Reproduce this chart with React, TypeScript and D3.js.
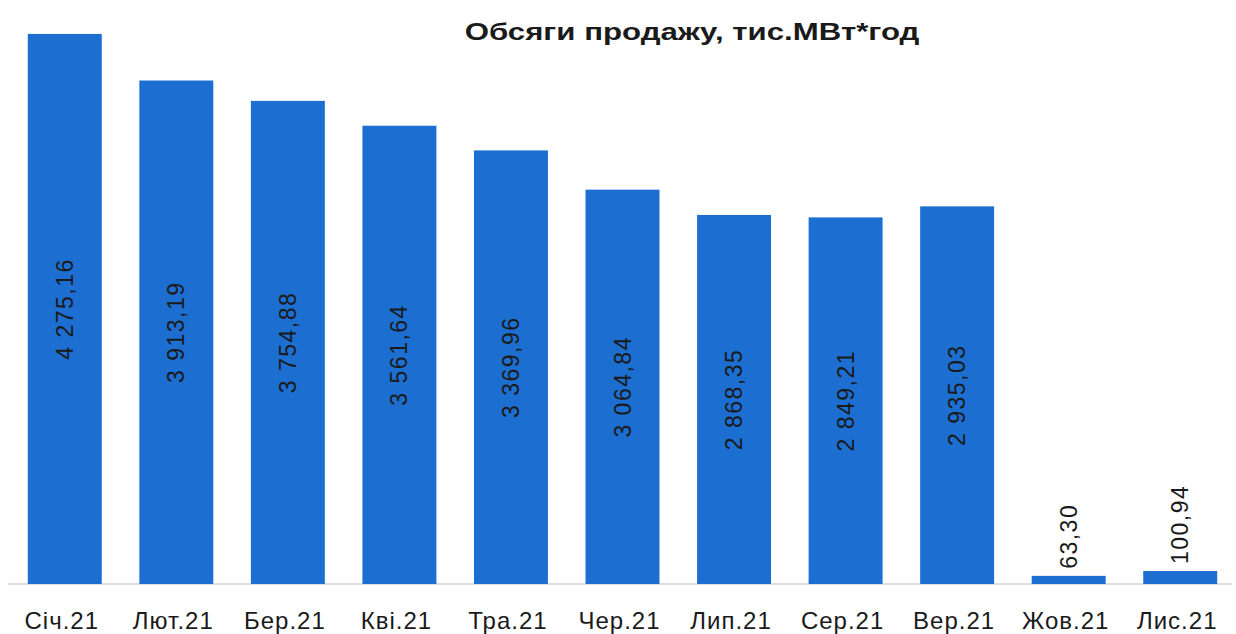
import React from 'react';
import * as d3 from 'd3';

const title = 'Обсяги продажу, тис.МВт*год';
const months = ['Січ.21', 'Лют.21', 'Бер.21', 'Кві.21', 'Тра.21', 'Чер.21', 'Лип.21', 'Сер.21', 'Вер.21', 'Жов.21', 'Лис.21'];
const volumes = [4275.16, 3913.19, 3754.88, 3561.64, 3369.96, 3064.84, 2868.35, 2849.21, 2935.03, 63.3, 100.94];

const width = 1236;
const height = 634;
const baseY = 584;

const uaFormat = d3
  .formatLocale({ decimal: ',', thousands: ' ', grouping: [3], currency: ['', ''] })
  .format(',.2f');

const App = () => {
  const x = d3.scaleBand<string>().domain(months).range([9, 1236]).paddingInner(0.337).paddingOuter(0.1685);
  const y = d3.scaleLinear().domain([0, 4500]).range([baseY, 5]);

  return (
    <svg
      width={width}
      height={height}
      style={{ position: 'absolute', left: 0, top: 0, background: '#fff' }}
      fontFamily="'Liberation Sans', Arial, sans-serif"
    >
      <text
        transform={`translate(692 40) scale(1.3 1)`}
        textAnchor="middle"
        fontSize={24}
        fontWeight="bold"
        fill="#1a1a1a"
      >
        {title}
      </text>

      <line x1={8} x2={1232} y1={baseY} y2={baseY} stroke="#d4d4d4" strokeWidth={1.5} />

      {months.map((m, i) => {
        const v = volumes[i];
        const bx = x(m) as number;
        const bw = x.bandwidth();
        const top = y(v);
        const cx = bx + bw / 2;
        const h = baseY - top;
        const inside = h > 120;
        return (
          <g key={m}>
            <rect x={bx} y={top} width={bw} height={h} fill="#1c6fd1" />
            {inside ? (
              <text
                transform={`translate(${cx} ${top + h / 2}) rotate(-90)`}
                textAnchor="middle"
                dominantBaseline="central"
                fontSize={23}
                letterSpacing={1.5}
                fill="#1a1a1a"
              >
                {uaFormat(v)}
              </text>
            ) : (
              <text
                transform={`translate(${cx} ${top - 7}) rotate(-90)`}
                textAnchor="start"
                dominantBaseline="central"
                fontSize={23}
                letterSpacing={1.5}
                fill="#1a1a1a"
              >
                {uaFormat(v)}
              </text>
            )}
            <text x={cx - 3} y={629} textAnchor="middle" fontSize={24} letterSpacing={1} fill="#1a1a1a">
              {m}
            </text>
          </g>
        );
      })}
    </svg>
  );
};

export default App;
